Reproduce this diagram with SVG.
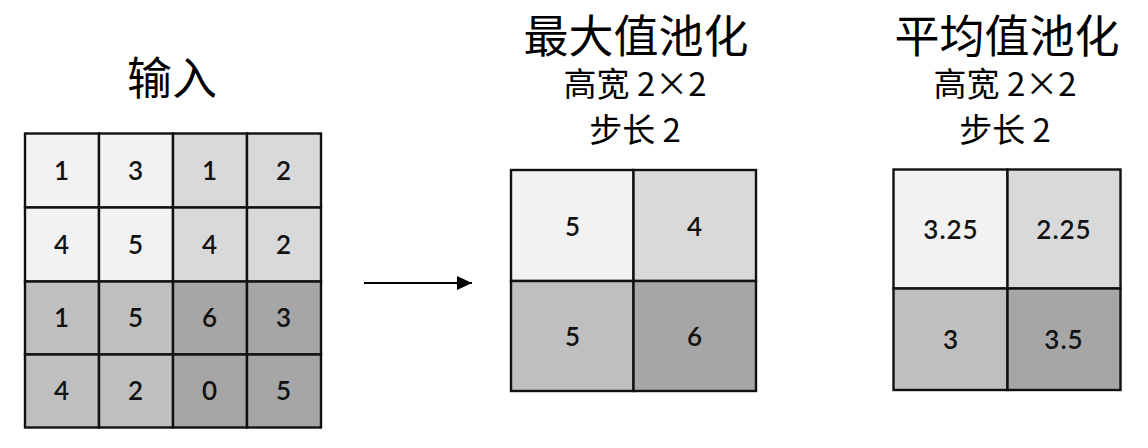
<svg xmlns="http://www.w3.org/2000/svg" width="1148" height="448" viewBox="0 0 1148 448">
<defs>
<style>
.c{stroke:#111;stroke-width:2.4}
.a{fill:#f2f2f2}.b{fill:#d9d9d9}.g{fill:#bfbfbf}.d{fill:#a6a6a6}
.n{font-family:Lato,"Noto Sans",sans-serif;font-size:26px;font-weight:600;fill:#111;text-anchor:middle;letter-spacing:1px}
.t{font-family:"Noto Sans CJK SC","Noto Sans",sans-serif;fill:#000;text-anchor:middle}
.t1{font-size:45px}.t2{font-size:33px}
</style>
<marker id="ah" viewBox="0 0 15 14" refX="15" refY="7" markerWidth="15" markerHeight="14" markerUnits="userSpaceOnUse" orient="auto">
<path d="M0,0 L15,7 L0,14 Z" fill="#000"/>
</marker>
</defs>
<rect width="1148" height="448" fill="#fff"/>
<g id="input">
<text class="t t1" x="172" y="95">输入</text>
<g class="c">
<rect class="a" x="25" y="133.5" width="74" height="74"/>
<rect class="a" x="99" y="133.5" width="74" height="74"/>
<rect class="b" x="173" y="133.5" width="74" height="74"/>
<rect class="b" x="247" y="133.5" width="74" height="74"/>
<rect class="a" x="25" y="207.5" width="74" height="74"/>
<rect class="a" x="99" y="207.5" width="74" height="74"/>
<rect class="b" x="173" y="207.5" width="74" height="74"/>
<rect class="b" x="247" y="207.5" width="74" height="74"/>
<rect class="g" x="25" y="281.5" width="74" height="73"/>
<rect class="g" x="99" y="281.5" width="74" height="73"/>
<rect class="d" x="173" y="281.5" width="74" height="73"/>
<rect class="d" x="247" y="281.5" width="74" height="73"/>
<rect class="g" x="25" y="354.5" width="74" height="73"/>
<rect class="g" x="99" y="354.5" width="74" height="73"/>
<rect class="d" x="173" y="354.5" width="74" height="73"/>
<rect class="d" x="247" y="354.5" width="74" height="73"/>
</g>
<g class="n">
<text x="62" y="180">1</text><text x="136" y="180">3</text><text x="210" y="180">1</text><text x="284" y="180">2</text>
<text x="62" y="254">4</text><text x="136" y="254">5</text><text x="210" y="254">4</text><text x="284" y="254">2</text>
<text x="62" y="327">1</text><text x="136" y="327">5</text><text x="210" y="327">6</text><text x="284" y="327">3</text>
<text x="62" y="400">4</text><text x="136" y="400">2</text><text x="210" y="400">0</text><text x="284" y="400">5</text>
</g>
</g>
<g id="connectors">
<line x1="364" y1="283" x2="472" y2="283" stroke="#000" stroke-width="2" marker-end="url(#ah)"/>
</g>
<g id="maxpool">
<text class="t t1" x="636" y="53">最大值池化</text>
<text class="t t2" x="635" y="96">高宽 2×2</text>
<text class="t t2" x="635" y="141.5">步长 2</text>
<g class="c">
<rect class="a" x="511" y="170" width="122.5" height="111"/>
<rect class="b" x="633.5" y="170" width="122.5" height="111"/>
<rect class="g" x="511" y="281" width="122.5" height="110"/>
<rect class="d" x="633.5" y="281" width="122.5" height="110"/>
</g>
<g class="n">
<text x="573" y="236">5</text><text x="695" y="236">4</text>
<text x="573" y="346">5</text><text x="695" y="346">6</text>
</g>
</g>
<g id="avgpool">
<text class="t t1" x="1007" y="53">平均值池化</text>
<text class="t t2" x="1005" y="96">高宽 2×2</text>
<text class="t t2" x="1005" y="141.5">步长 2</text>
<g class="c">
<rect class="a" x="893.5" y="169.5" width="114" height="119"/>
<rect class="b" x="1007.5" y="169.5" width="113" height="119"/>
<rect class="g" x="893.5" y="288.5" width="114" height="101.5"/>
<rect class="d" x="1007.5" y="288.5" width="113" height="101.5"/>
</g>
<g class="n">
<text x="951" y="239">3.25</text><text x="1064" y="239">2.25</text>
<text x="951" y="349">3</text><text x="1064" y="349">3.5</text>
</g>
</g>
</svg>
